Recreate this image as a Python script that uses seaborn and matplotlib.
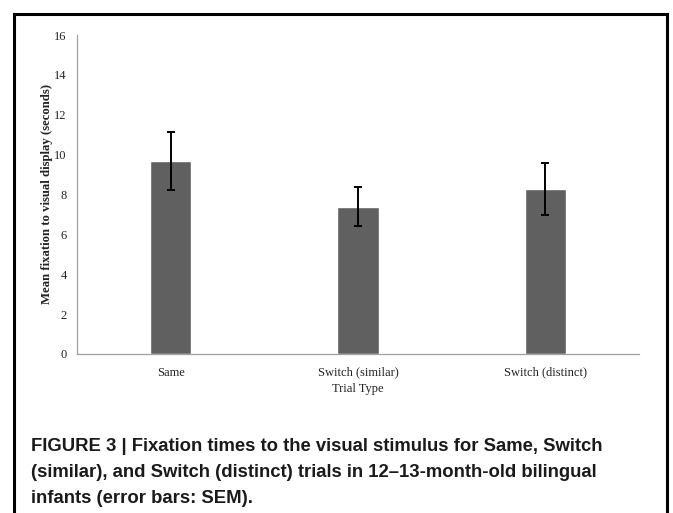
import matplotlib
matplotlib.use("Agg")
import matplotlib.pyplot as plt
import seaborn as sns
import pandas as pd
from matplotlib.patches import Rectangle
from matplotlib.ticker import FixedLocator

categories = ["Same", "Switch (similar)", "Switch (distinct)"]
means = [9.68, 7.39, 8.26]
sems = [1.47, 0.98, 1.30]
y_ticks = [0, 2, 4, 6, 8, 10, 12, 14, 16]
caption_lines = [
    "FIGURE 3 | Fixation times to the visual stimulus for Same, Switch",
    "(similar), and Switch (distinct) trials in 12\u201313-month-old bilingual",
    "infants (error bars: SEM).",
]

df = pd.DataFrame({"Trial Type": categories, "Mean": means})

sns.set_style("white")
plt.rcParams["font.family"] = ["Liberation Serif", "DejaVu Serif"]

W, H = 673, 513
fig = plt.figure(figsize=(W / 100, H / 100), dpi=100)
ax = fig.add_axes([77 / W, 1 - 354 / H, (639 - 77) / W, (354 - 35) / H])

sns.barplot(data=df, x="Trial Type", y="Mean", color="#606060", saturation=1,
            width=0.22, errorbar=None, ax=ax)
ax.errorbar(range(len(categories)), means, yerr=sems, fmt="none",
            ecolor="black", elinewidth=1.4, capsize=2.6, capthick=1.4)

ax.set_xlim(-0.5, 2.5)
ax.set_ylim(0, 16)
ax.set_yticks(y_ticks)
ax.set_yticklabels([str(t) for t in y_ticks], fontsize=9)
ax.tick_params(axis="y", which="major", length=3.5, color="#999999", width=0.8, pad=4, labelcolor="#222222")
ax.tick_params(axis="x", which="major", length=0, pad=9, labelsize=9, labelcolor="#222222")
ax.xaxis.set_minor_locator(FixedLocator([-0.5, 0.5, 1.5, 2.5]))
ax.tick_params(axis="x", which="minor", length=3.5, color="#999999", width=0.8)
for s in ["top", "right"]:
    ax.spines[s].set_visible(False)
for s in ["left", "bottom"]:
    ax.spines[s].set_color("#a0a0a0")
    ax.spines[s].set_linewidth(0.9)

ax.set_xlabel("Trial Type", fontsize=9, color="#222222", labelpad=3)
ax.set_ylabel("Mean fixation to visual display (seconds)", fontsize=9.2,
              fontweight="bold", color="#222222", labelpad=1)

# figure frame
fig.patches.append(Rectangle((14 / W, -0.05), (667 - 14) / W, (1 - 14 / H) + 0.05,
                             transform=fig.transFigure, fill=False,
                             edgecolor="black", linewidth=2.2, zorder=10))

for i, line in enumerate(caption_lines):
    fig.text(31 / W, 1 - (451 + 26 * i) / H, line, ha="left", va="baseline",
             fontsize=13.3, fontweight="bold",
             family=["Liberation Sans", "DejaVu Sans"], color="#1a1a1a")

fig.savefig("out.png", dpi=100)
